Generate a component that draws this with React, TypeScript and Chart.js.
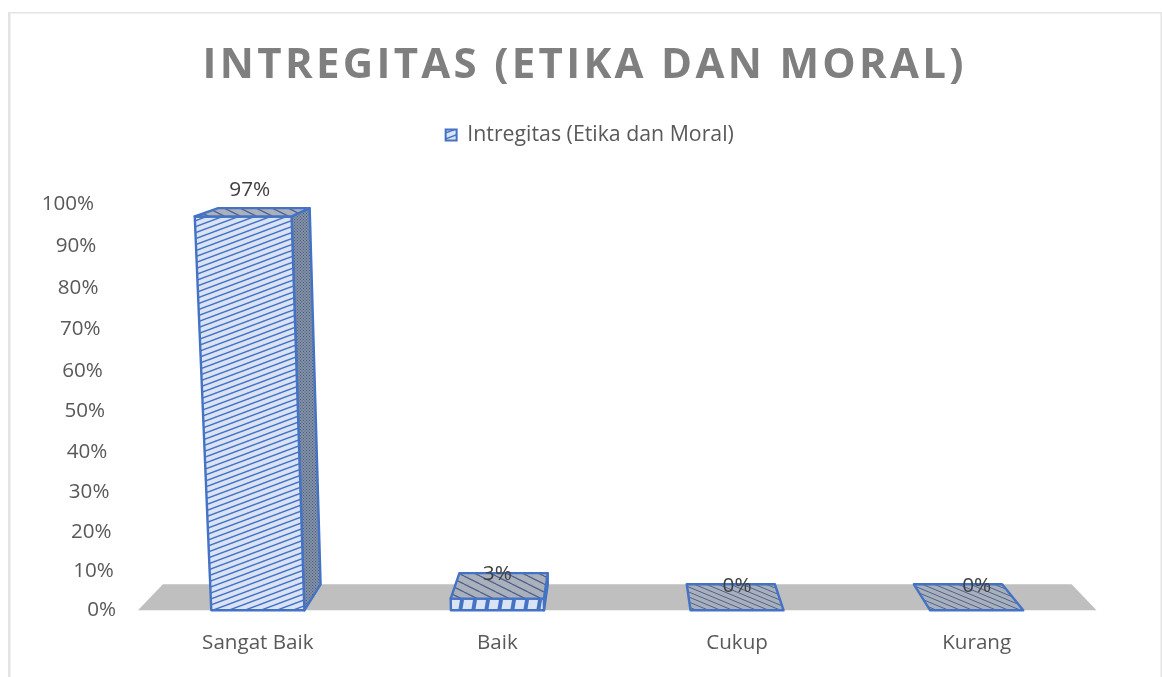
import React, { useEffect, useRef } from "react";
import { Chart, registerables, LinearScale } from "chart.js";

const chartTitle = "INTREGITAS (ETIKA DAN MORAL)";
const seriesName = "Intregitas (Etika dan Moral)";
const categories = ["Sangat Baik", "Baik", "Cukup", "Kurang"];
const seriesValues = [97, 3, 0, 0];
const FONT = "'Open Sans', sans-serif";
const BLUE = "#4472c4";

// Value axis of a 3-D chart: ticks bunch slightly toward the floor and lean left with height.
class PerspectiveScale extends LinearScale {
  static id = "perspective";
  static defaults = LinearScale.defaults;
  getPixelForValue(value: number) {
    const t = (value - this.min) / (this.max - this.min);
    const c = 1.045;
    return this.bottom - (this.bottom - this.top) * (t / (c - (c - 1) * t));
  }
  _computeLabelItems(area: any) {
    const items = (LinearScale.prototype as any)._computeLabelItems.call(this, area);
    items.forEach((it: any, i: number) => {
      it.options.translation = [it.options.translation[0] - 0.22 * this.ticks[i].value, it.options.translation[1]];
    });
    return items;
  }
}
Chart.register(...registerables, PerspectiveScale);

function tile(w: number, h: number, bg: string, paint: (g: CanvasRenderingContext2D) => void) {
  const c = document.createElement("canvas");
  c.width = w;
  c.height = h;
  const g = c.getContext("2d")!;
  g.fillStyle = bg;
  g.fillRect(0, 0, w, h);
  paint(g);
  return g.createPattern(c, "repeat")!;
}
function slant(w: number, h: number, bg: string, ink: string, lw: number, rising: boolean) {
  return tile(w, h, bg, (g) => {
    g.strokeStyle = ink;
    g.lineWidth = lw;
    for (const dy of [-h, 0, h]) {
      g.beginPath();
      g.moveTo(0, (rising ? h : 0) + dy);
      g.lineTo(w, (rising ? 0 : h) + dy);
      g.stroke();
    }
  });
}

function poly(ctx: CanvasRenderingContext2D, pts: number[][], fill: any) {
  ctx.beginPath();
  pts.forEach(([x, y], i) => (i ? ctx.lineTo(x, y) : ctx.moveTo(x, y)));
  ctx.closePath();
  ctx.fillStyle = fill;
  ctx.fill();
  ctx.lineWidth = 2.4;
  ctx.strokeStyle = BLUE;
  ctx.lineJoin = "round";
  ctx.stroke();
}

const DEPTH_SHRINK = 0.948;
const FLOOR_DEPTH = 26;
const BAR_WIDTH_RATIO = 93 / 239.5;
const TITLE_SHIFT = 15;
const LEGEND_SHIFT = 20;
const LEGEND_GAP = 48;

const scene3d = {
  id: "scene3d",
  beforeLayout(chart: any) {
    const lg = chart.legend;
    if (lg && !lg.__gap) {
      lg.__gap = true;
      const fit = lg.fit.bind(lg);
      lg.fit = () => {
        fit();
        lg.height += LEGEND_GAP;
      };
    }
  },
  afterLayout(chart: any) {
    const { titleBlock: tb, legend: lg } = chart;
    tb.left += TITLE_SHIFT;
    tb.right += TITLE_SHIFT;
    lg.left += LEGEND_SHIFT;
    lg.right += LEGEND_SHIFT;
  },
  beforeDraw(chart: any) {
    const { ctx, width, height, titleBlock } = chart;
    ctx.save();
    ctx.fillStyle = "#fff";
    ctx.fillRect(0, 0, width, height);
    ctx.fillStyle = "#e4e4e4";
    ctx.fillRect(8, 12, 2.5, height - 12);
    ctx.fillRect(8, 12, width - 8, 1.5);
    ctx.fillRect(width - 1.5, 12, 1.5, height - 12);
    ctx.restore();
    if (titleBlock && !titleBlock.__spaced) {
      titleBlock.__spaced = true;
      const draw = titleBlock.draw.bind(titleBlock);
      titleBlock.draw = () => {
        ctx.save();
        ctx.letterSpacing = "3.3px";
        draw();
        ctx.restore();
      };
    }
  },
  beforeDatasetsDraw(chart: any) {
    const { ctx, chartArea: a } = chart;
    const xc = (a.left + a.right) / 2;
    const y0 = chart.scales.y.getPixelForValue(0);
    const shrink = (x: number) => xc + (x - xc) * DEPTH_SHRINK;
    ctx.save();
    ctx.beginPath();
    ctx.moveTo(a.left, y0);
    ctx.lineTo(a.right, y0);
    ctx.lineTo(shrink(a.right), y0 - FLOOR_DEPTH);
    ctx.lineTo(shrink(a.left), y0 - FLOOR_DEPTH);
    ctx.closePath();
    ctx.fillStyle = "#bfbfbf";
    ctx.fill();
    ctx.restore();
  },
  beforeDatasetDraw(chart: any) {
    const { ctx, chartArea: a } = chart;
    const sx = chart.scales.x;
    const sy = chart.scales.y;
    const ds = chart.data.datasets[0];
    const xc = (a.left + a.right) / 2;
    const y0 = sy.getPixelForValue(0);
    const half = ((sx.getPixelForTick(1) - sx.getPixelForTick(0)) * BAR_WIDTH_RATIO) / 2;

    const frontTall = ds.backgroundColor;
    const frontShort = tile(13, 12, "#dae3f3", (g) => {
      g.fillStyle = BLUE;
      g.beginPath();
      g.moveTo(3, 12);
      g.lineTo(7, 12);
      g.lineTo(9, 0);
      g.lineTo(5, 0);
      g.closePath();
      g.fill();
    });
    const side = tile(3, 3, "#8290a8", (g) => {
      g.fillStyle = "#4d5c78";
      g.fillRect(0, 0, 1, 1);
      g.fillRect(1.5, 1.5, 1, 1);
    });
    const topWide = slant(16, 8, "#aab1bd", "#4f6288", 1.3, false);
    const topDense = slant(12, 5, "#a9b0bd", "#4f6288", 1, false);

    ctx.save();
    ds.data.forEach((v: number, i: number) => {
      const t = v / 100;
      const cx = sx.getPixelForTick(i);
      const yTop = sy.getPixelForValue(v);
      const rise = y0 - yTop;
      const f = (x: number) => xc + (x - xc) * (1 + 0.042 * t);
      const b = (x: number) => xc + (x - xc) * DEPTH_SHRINK * (1 + 0.038 * t);
      const L = cx - half;
      const R = cx + half;
      const yBackBase = y0 - FLOOR_DEPTH;
      const yBackTop = yBackBase - rise * 0.955;
      if (v > 0) {
        poly(ctx, [[R, y0], [f(R), yTop], [b(R), yBackTop], [xc + (R - xc) * DEPTH_SHRINK, yBackBase]], side);
        poly(ctx, [[L, y0], [R, y0], [f(R), yTop], [f(L), yTop]], rise > 60 ? frontTall : frontShort);
      }
      poly(ctx, [[f(L), yTop], [f(R), yTop], [b(R), yBackTop], [b(L), yBackTop]], v > 1 ? topWide : topDense);
    });
    ds.data.forEach((v: number, i: number) => {
      const t = v / 100;
      const cx = sx.getPixelForTick(i);
      ctx.fillStyle = "#404040";
      ctx.font = `20.8px ${FONT}`;
      ctx.textAlign = "center";
      ctx.textBaseline = "middle";
      ctx.fillText(`${v}%`, xc + (cx - xc) * (1 + 0.023 * t), sy.getPixelForValue(v) - 24 - t * 2);
    });
    ctx.restore();
    return false;
  },
};

export default function App() {
  const ref = useRef<HTMLCanvasElement>(null);
  useEffect(() => {
    document.body.style.margin = "0";
    const pattern = slant(16, 6, "#dae3f3", BLUE, 1.5, true);
    const chart = new Chart(ref.current!, {
      type: "bar",
      data: {
        labels: categories,
        datasets: [
          {
            label: seriesName,
            data: seriesValues,
            backgroundColor: pattern,
            borderColor: BLUE,
            borderWidth: 2,
          },
        ],
      },
      plugins: [scene3d],
      options: {
        responsive: false,
        animation: false,
        layout: { padding: { left: 43, right: 65.5, top: 41, bottom: 2 } },
        plugins: {
          title: {
            display: true,
            text: chartTitle,
            color: "#7f7f7f",
            font: { family: FONT, size: 42, weight: "bold" },
            padding: { top: 0, bottom: 25 },
          },
          legend: {
            position: "top",
            labels: {
              boxWidth: 11,
              boxHeight: 11,
              color: "#595959",
              font: { family: FONT, size: 21.3 },
              padding: 8,
            },
          },
          tooltip: { enabled: false },
        },
        scales: {
          x: {
            grid: { display: false, drawTicks: false },
            border: { display: false },
            ticks: { color: "#595959", font: { family: FONT, size: 20.6 }, padding: 20 },
          },
          y: {
            type: "perspective",
            min: 0,
            max: 100,
            grid: { display: false, drawTicks: false },
            border: { display: false },
            afterFit(s: any) {
              s.width = 95;
            },
            ticks: {
              stepSize: 10,
              color: "#595959",
              font: { family: FONT, size: 20.6 },
              padding: 22,
              callback: (v: any) => `${v}%`,
            },
          },
        },
      } as any,
    } as any);
    return () => chart.destroy();
  }, []);
  return (
    <canvas
      ref={ref}
      width={1162}
      height={677}
      style={{ display: "block", position: "absolute", left: 0, top: 0 }}
    />
  );
}
